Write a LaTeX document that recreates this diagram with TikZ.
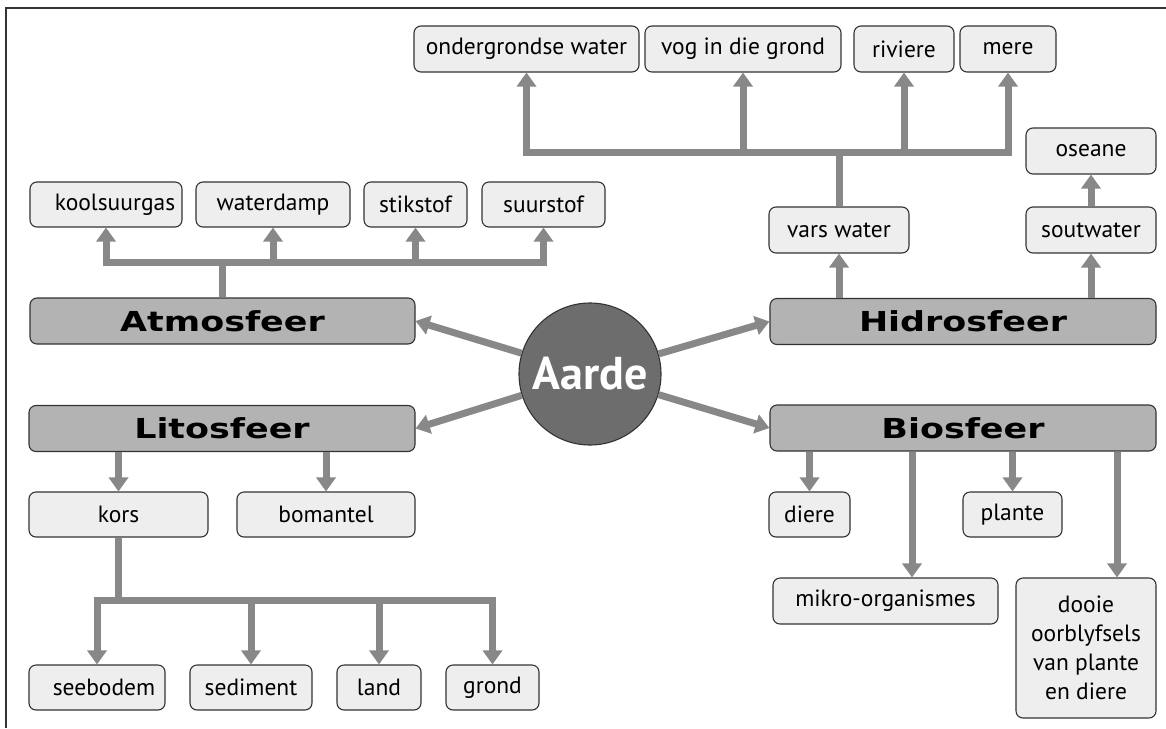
\documentclass[tikz,border=0pt]{standalone}
\usepackage{fontspec}
\setmainfont{PT Sans}
\newfontfamily\headfont{DejaVu Sans}
\usetikzlibrary{arrows.meta}

\definecolor{edge}{HTML}{333333}
\definecolor{boxfill}{HTML}{EEEEEE}
\definecolor{headfill}{HTML}{B3B3B3}
\definecolor{arrowgray}{HTML}{888888}
\definecolor{earth}{HTML}{6D6D6D}

\tikzset{
  box/.style={draw=edge, fill=boxfill, rounded corners=7pt, line width=1.1pt,
    inner sep=0pt, minimum height=45pt, font=\fontsize{23.5}{29}\selectfont},
  head/.style={box, fill=headfill, minimum height=46pt,
    font=\headfont\bfseries\fontsize{27.5}{30}\selectfont},
  conn/.style={draw=arrowgray, line width=7pt},
  arr/.style={conn, -{Triangle[width=19pt,length=14pt]}},
}
\newcommand{\wide}[1]{\scalebox{1.27}[1]{#1}}

\begin{document}
\begin{tikzpicture}[x=1pt,y=-1pt]
\useasboundingbox (0,0) rectangle (1166,728);

% outer frame (top and left edges)
\draw[edge, line width=2pt] (5.5,728) -- (5.5,8) -- (1166,8);

% centre
\node[circle, draw=edge, fill=earth, line width=1.1pt, minimum size=142pt, inner sep=0pt,
      text=white, font=\bfseries\fontsize{46}{48}\selectfont] (aarde) at (590,374) {Aarde};

% spheres
\node[head, minimum width=385pt] (atmos) at (222.5,321)   {\wide{Atmosfeer}};
\node[head, minimum width=386pt] (hidro) at (963,321.5)   {\wide{Hidrosfeer}};
\node[head, minimum width=386pt] (litos) at (222,428.5)   {\wide{Litosfeer}};
\node[head, minimum width=386pt] (bio)   at (963,428)     {\wide{Biosfeer}};

% atmosphere
\node[box, minimum width=152pt] (kool)  at (106,204.5)   {\hspace*{18pt}koolsuurgas};
\node[box, minimum width=154pt] (damp)  at (273,204.5)   {waterdamp};
\node[box, minimum width=103pt] (stik)  at (415.5,204.5) {stikstof};
\node[box, minimum width=123pt] (suur)  at (543.5,204.5) {suurstof};

% hydrosphere
\node[box, minimum width=225pt, minimum height=46pt] (onder) at (526.5,49) {ondergrondse water};
\node[box, minimum width=196pt, minimum height=46pt] (vog)   at (743,49)   {vog in die grond};
\node[box, minimum width=100pt, minimum height=46pt] (riv)   at (904,49)   {riviere};
\node[box, minimum width=96pt,  minimum height=46pt] (mere)  at (1008,49)  {mere};
\node[box, minimum width=140pt, minimum height=46pt] (vars)  at (839,230)  {vars water};
\node[box, minimum width=130pt, minimum height=46pt] (ose)   at (1091,151) {oseane};
\node[box, minimum width=130pt, minimum height=46pt] (sout)  at (1091,230) {soutwater};

% lithosphere
\node[box, minimum width=179pt] (kors)  at (118.5,514.5) {kors};
\node[box, minimum width=178pt] (boman) at (326,514.5)   {bomantel};
\node[box, minimum width=136pt] (seeb)  at (97,687.5)    {\hspace*{14pt}seebodem};
\node[box, minimum width=122pt] (sedi)  at (251,687.5)   {sediment};
\node[box, minimum width=84pt]  (land)  at (379,687.5)   {land};
\node[box, minimum width=93pt]  (grond) at (492.5,687.5) {grond};

% biosphere
\node[box, minimum width=81pt]  (diere)  at (809.5,514.5) {diere};
\node[box, minimum width=99pt]  (plante) at (1012.5,514.5) {plante};
\node[box, minimum width=225pt, minimum height=46pt] (mikro) at (885.5,601) {mikro-organismes};
\node[box, minimum width=140pt, minimum height=140pt, align=center] (dooie) at (1086,648)
  {dooie\\oorblyfsels\\van plante\\en diere};

% from the earth to the four spheres
\draw[arr] (aarde) -- (atmos.east);
\draw[arr] (aarde) -- (hidro.west);
\draw[arr] (aarde) -- (litos.east);
\draw[arr] (aarde) -- (bio.west);

% atmosphere branches
\coordinate (ab) at (222,262);
\draw[conn] (atmos.north -| ab) -- (ab);
\draw[arr] (ab) -| (kool.south);
\draw[arr] (ab) -| (damp.south);
\draw[arr] (ab) -| (stik.south);
\draw[arr] (ab) -| (suur.south);

% hydrosphere branches
\draw[arr] (hidro.north -| vars) -- (vars.south);
\draw[arr] (hidro.north -| sout) -- (sout.south);
\draw[arr] (sout.north) -- (ose.south);
\coordinate (hb) at (839,152);
\draw[conn] (vars.north) -- (hb);
\draw[arr] (hb) -| (onder.south);
\draw[arr] (hb) -| (vog.south);
\draw[arr] (hb) -| (riv.south);
\draw[arr] (hb) -| (mere.south);

% lithosphere branches
\draw[arr] (litos.south -| kors) -- (kors.north);
\draw[arr] (litos.south -| boman) -- (boman.north);
\coordinate (kb) at (118.5,600);
\draw[conn] (kors.south) -- (kb);
\draw[arr] (kb) -| (seeb.north);
\draw[arr] (kb) -| (sedi.north);
\draw[arr] (kb) -| (land.north);
\draw[arr] (kb) -| (grond.north);

% biosphere branches
\coordinate (mk) at (912,0);
\coordinate (dk) at (1117,0);
\draw[arr] (bio.south -| diere) -- (diere.north);
\draw[arr] (bio.south -| plante) -- (plante.north);
\draw[arr] (bio.south -| mk) -- (mikro.north -| mk);
\draw[arr] (bio.south -| dk) -- (dooie.north -| dk);
\end{tikzpicture}
\end{document}
